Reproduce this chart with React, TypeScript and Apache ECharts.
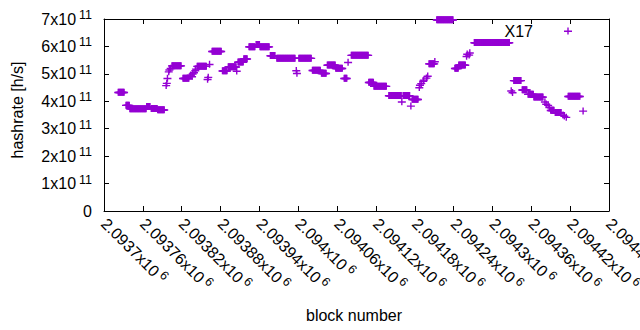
import React, { useEffect, useRef } from "react";
import * as echarts from "echarts";

// Runs of consecutive blocks sharing one hashrate (start block, end block, hashrate in h/s)
const runStart = [
  2093722, 2093734, 2093740, 2093766, 2093773, 2093783,
  2093796, 2093797, 2093798, 2093800, 2093801, 2093803,
  2093805, 2093822,
  2093833, 2093834, 2093836, 2093837, 2093839, 2093841, 2093842,
  2093844, 2093860, 2093861, 2093863, 2093867, 2093883, 2093892, 2093905,
  2093907, 2093916, 2093924, 2093935, 2093941, 2093957, 2093967,
  2093997, 2093998, 2094001, 2094022, 2094036, 2094045, 2094058,
  2094071, 2094077, 2094082, 2094109, 2094117, 2094140, 2094160,
  2094162, 2094174, 2094176,
  2094187, 2094188, 2094190, 2094193, 2094194, 2094198, 2094200,
  2094202, 2094211, 2094214, 2094242, 2094248,
  2094260, 2094261, 2094264, 2094265, 2094272, 2094329, 2094331,
  2094333, 2094346, 2094355, 2094364,
  2094381, 2094383, 2094386, 2094388, 2094390, 2094397,
  2094409, 2094411, 2094414, 2094417, 2094440,
];
const runEnd = [
  2093731, 2093739, 2093765, 2093771, 2093782, 2093793,
  2093796, 2093797, 2093798, 2093800, 2093801, 2093803,
  2093819, 2093831,
  2093833, 2093834, 2093836, 2093837, 2093839, 2093841, 2093842,
  2093858, 2093860, 2093861, 2093863, 2093881, 2093890, 2093904, 2093905,
  2093915, 2093921, 2093933, 2093940, 2093955, 2093964, 2093995,
  2093997, 2093998, 2094020, 2094034, 2094043, 2094057, 2094068,
  2094075, 2094077, 2094108, 2094116, 2094136, 2094159, 2094160,
  2094172, 2094174, 2094185,
  2094187, 2094188, 2094190, 2094193, 2094194, 2094198, 2094200,
  2094210, 2094211, 2094239, 2094247, 2094258,
  2094260, 2094261, 2094264, 2094265, 2094326, 2094329, 2094331,
  2094344, 2094353, 2094363, 2094378,
  2094381, 2094383, 2094386, 2094388, 2094395, 2094406,
  2094409, 2094411, 2094414, 2094435, 2094440,
];
const runValue = [
  4.33e11, 3.86e11, 3.73e11, 3.81e11, 3.74e11, 3.69e11,
  4.58e11, 4.66e11, 4.84e11, 5.08e11, 5.15e11, 5.2e11,
  5.3e11, 4.84e11,
  4.92e11, 4.96e11, 4.9e11, 5.0e11, 5.05e11, 5.12e11, 5.18e11,
  5.28e11, 4.8e11, 4.88e11, 5.35e11, 5.82e11, 5.11e11, 5.26e11, 5.1e11,
  5.43e11, 5.55e11, 5.99e11, 6.07e11, 5.99e11, 5.67e11, 5.57e11,
  5.12e11, 5.02e11, 5.57e11, 5.13e11, 5.02e11, 5.32e11, 5.2e11,
  4.84e11, 5.42e11, 5.68e11, 4.69e11, 4.55e11, 4.21e11, 3.98e11,
  4.21e11, 3.83e11, 4.07e11,
  4.5e11, 4.59e11, 4.65e11, 4.74e11, 4.78e11, 4.85e11, 4.92e11,
  5.37e11, 5.45e11, 6.97e11, 5.2e11, 5.32e11,
  5.64e11, 5.72e11, 5.69e11, 5.77e11, 6.14e11, 4.38e11, 4.32e11,
  4.76e11, 4.42e11, 4.26e11, 4.16e11,
  3.98e11, 3.9e11, 3.86e11, 3.78e11, 3.67e11, 3.59e11,
  3.5e11, 3.46e11, 3.42e11, 4.18e11, 3.65e11,
];

const seriesName = "X17";
const xMin = 2093700;
const xMax = 2094480;
const xStep = 60;
const yMin = 0;
const yMax = 7e11;
const yStep = 1e11;

const COLOR = "#9400d3";
const FONT = "Liberation Sans";
const PLUS = "path://M0,3 L8,3 L8,4.4 L0,4.4 Z M3.3,0 L4.7,0 L4.7,7 L3.3,7 Z";

function buildPoints(): [number, number][] {
  const pts: [number, number][] = [];
  for (let i = 0; i < runStart.length; i++) {
    for (let b = runStart[i]; b <= runEnd[i]; b++) pts.push([b, runValue[i]]);
  }
  return pts;
}

export default function App() {
  const ref = useRef<HTMLDivElement>(null);
  useEffect(() => {
    if (!ref.current) return;
    const chart = echarts.init(ref.current, undefined, { renderer: "svg" });
    const rich = {
      a: { fontSize: 16, fontFamily: FONT, color: "#000" },
      b: { fontSize: 12.5, fontFamily: FONT, color: "#000", padding: [0, 0, 8, 3] },
    };
    const axisLineStyle = { color: "#000", width: 1 };
    const frameX = {
      type: "value",
      min: xMin,
      max: xMax,
      interval: xStep,
      axisLine: { show: true, onZero: false, lineStyle: axisLineStyle },
      axisTick: { show: true, inside: true, length: 5, lineStyle: axisLineStyle },
      splitLine: { show: false },
    };
    const frameY = {
      type: "value",
      min: yMin,
      max: yMax,
      interval: yStep,
      axisLine: { show: true, onZero: false, lineStyle: axisLineStyle },
      axisTick: { show: true, inside: true, length: 5, lineStyle: axisLineStyle },
      splitLine: { show: false },
    };
    chart.setOption({
      animation: false,
      backgroundColor: "#fff",
      grid: {
        left: 104,
        right: 31,
        top: 19,
        bottom: 119,
        containLabel: false,
        outerBoundsMode: "none",
        show: false,
      },
      xAxis: [
        {
          ...frameX,
          position: "bottom",
          axisLabel: {
            rotate: -45,
            margin: 10,
            showMinLabel: true,
            showMaxLabel: true,
            hideOverlap: false,
            color: "#000",
            fontFamily: FONT,
            fontSize: 16,
            formatter: (v: number) => `{a|${parseFloat((v / 1e6).toFixed(5))}x10}{b|6}`,
            rich,
          },
        },
        { ...frameX, position: "top", axisLabel: { show: false } },
      ],
      yAxis: [
        {
          ...frameY,
          position: "left",
          axisLabel: {
            margin: 12,
            color: "#000",
            fontFamily: FONT,
            fontSize: 16,
            formatter: (v: number) => (v === 0 ? "{a|0}" : `{a|${Math.round(v / 1e11)}x10}{b|11}`),
            rich,
          },
        },
        { ...frameY, position: "right", axisLabel: { show: false } },
      ],
      legend: {
        show: true,
        right: 68,
        top: 23,
        padding: 0,
        align: "right",
        itemWidth: 8,
        itemHeight: 7,
        textStyle: { fontFamily: FONT, fontSize: 16, color: "#000", padding: [0, 26, 0, 0] },
        data: [{ name: seriesName, icon: PLUS }],
      },
      graphic: [
        {
          type: "text",
          x: 354,
          y: 315,
          style: {
            text: "block number",
            fontFamily: FONT,
            fontSize: 16,
            fill: "#000",
            textAlign: "center",
            textVerticalAlign: "middle",
          },
        },
        {
          type: "text",
          x: 17,
          y: 110,
          rotation: Math.PI / 2,
          style: {
            text: "hashrate [h/s]",
            fontFamily: FONT,
            fontSize: 16,
            fill: "#000",
            textAlign: "center",
            textVerticalAlign: "middle",
          },
        },
      ],
      series: [
        {
          type: "scatter",
          name: seriesName,
          xAxisIndex: 0,
          yAxisIndex: 0,
          data: buildPoints(),
          symbol: PLUS,
          symbolSize: [8, 7],
          itemStyle: { color: COLOR, opacity: 1 },
          emphasis: { disabled: true },
        },
      ],
    });
    return () => chart.dispose();
  }, []);
  return (
    <div
      ref={ref}
      style={{ position: "fixed", left: 0, top: 0, width: 640, height: 330, background: "#fff" }}
    />
  );
}
